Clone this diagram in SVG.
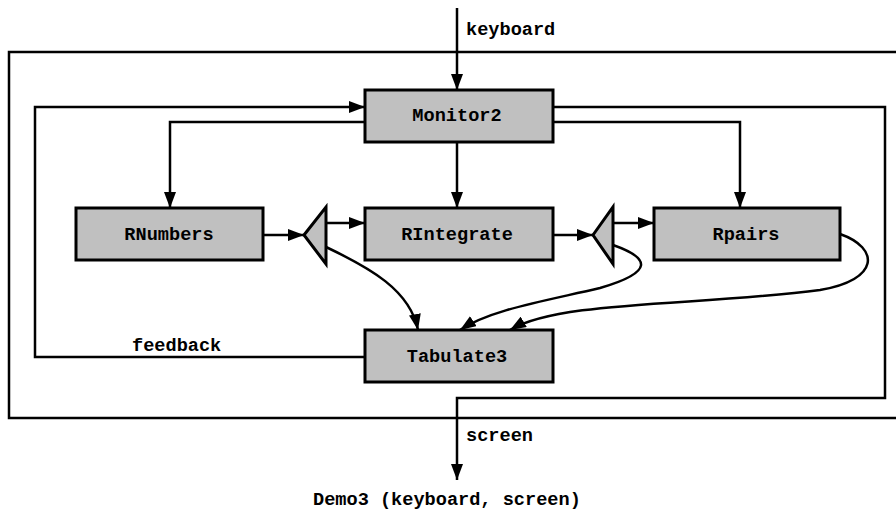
<svg xmlns="http://www.w3.org/2000/svg" width="896" height="510" viewBox="0 0 896 510">
<defs>
<style>
.box{fill:#c0c0c0;stroke:#000;stroke-width:3}
.ln{fill:none;stroke:#000;stroke-width:2.5}
.t{font-family:"Liberation Mono","Courier New",monospace;font-weight:bold;font-size:18.6px;fill:#000}
.c{text-anchor:middle}
</style>
<marker id="ah" markerUnits="userSpaceOnUse" markerWidth="16" markerHeight="12" refX="16" refY="6" orient="auto">
<path d="M0,0 L16,6 L0,12 z" fill="#000"/>
</marker>
</defs>
<rect x="0" y="0" width="896" height="510" fill="#fff"/>
<g id="outer"><path class="ln" d="M900,52 H9 V418 H900"/></g>
<g id="connectors" class="ln">
<path d="M457,8 V90" marker-end="url(#ah)"/>
<path d="M365,357 H35 V107 H365" marker-end="url(#ah)"/>
<path d="M365,122 H170 V208" marker-end="url(#ah)"/>
<path d="M457,142 V208" marker-end="url(#ah)"/>
<path d="M553,122 H740 V208" marker-end="url(#ah)"/>
<path d="M553,107 H885 V398 H457 V480" marker-end="url(#ah)"/>
<path d="M263,235 H304" marker-end="url(#ah)"/>
<path d="M326,223 H365" marker-end="url(#ah)"/>
<path d="M326,247 C370,268 410,290 418,330" marker-end="url(#ah)"/>
<path d="M553,235 H593" marker-end="url(#ah)"/>
<path d="M613,223 H654" marker-end="url(#ah)"/>
<path d="M613,245 C650,258 655,272 600,288 C540,302 490,310 460,330" marker-end="url(#ah)"/>
<path d="M840,234 C880,248 880,280 820,290 C700,306 560,300 510,330" marker-end="url(#ah)"/>
</g>
<g id="Monitor2"><rect class="box" x="365" y="90" width="188" height="52"/><text class="t c" x="457" y="121">Monitor2</text></g>
<g id="RNumbers"><rect class="box" x="76" y="208" width="187" height="52"/><text class="t c" x="169" y="240">RNumbers</text></g>
<g id="RIntegrate"><rect class="box" x="365" y="208" width="188" height="52"/><text class="t c" x="457" y="240">RIntegrate</text></g>
<g id="Rpairs"><rect class="box" x="654" y="208" width="186" height="52"/><text class="t c" x="746" y="240">Rpairs</text></g>
<g id="Tabulate3"><rect class="box" x="365" y="330" width="188" height="52"/><text class="t c" x="457" y="362">Tabulate3</text></g>
<g id="split1"><polygon class="box" points="304,235 326,207 326,264"/></g>
<g id="split2"><polygon class="box" points="593,235 613,207 613,264"/></g>
<text class="t" x="466" y="35">keyboard</text>
<text class="t" x="132" y="351">feedback</text>
<text class="t" x="466" y="441">screen</text>
<text class="t" x="313" y="505">Demo3 (keyboard, screen)</text>
</svg>
